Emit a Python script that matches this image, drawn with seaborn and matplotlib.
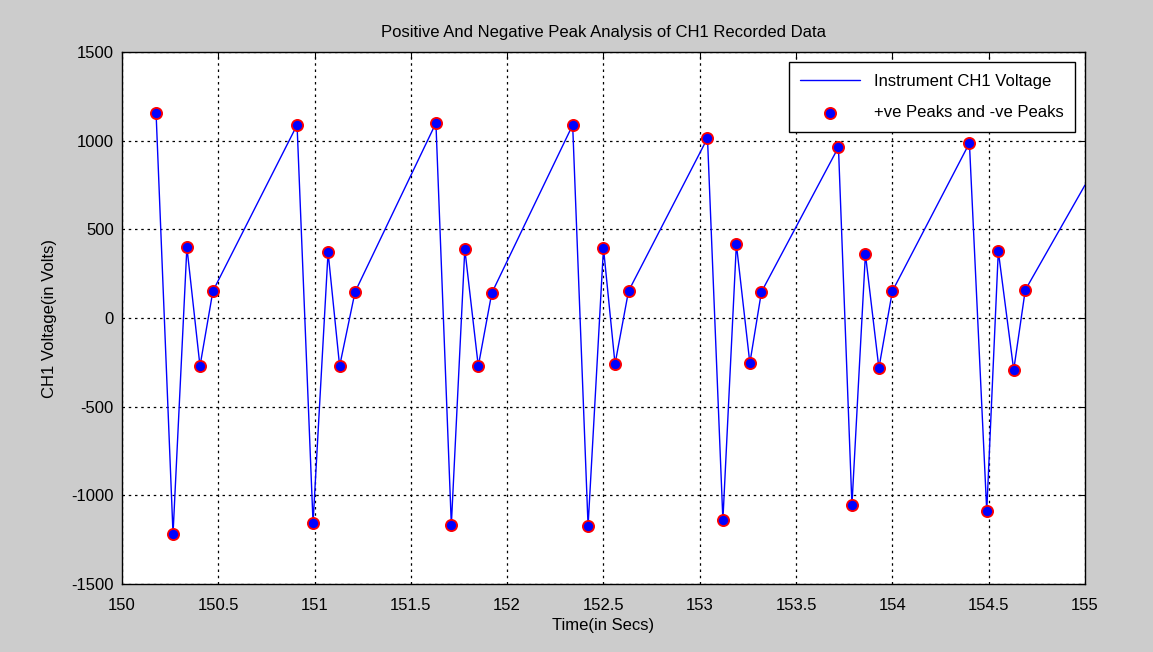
import numpy as np
import pandas as pd
import seaborn as sns
import matplotlib.pyplot as plt

# peak times (s) and voltages (V)
peak_time = [150.177, 150.265, 150.337, 150.405, 150.472,
             150.909, 150.992, 151.070, 151.130, 151.210,
             151.630, 151.710, 151.780, 151.850, 151.920,
             152.340, 152.420, 152.500, 152.560, 152.630,
             153.040, 153.120, 153.190, 153.260, 153.320,
             153.720, 153.790, 153.860, 153.930, 154.000,
             154.400, 154.490, 154.550, 154.630, 154.690]
peak_volt = [1156, -1218, 400, -271, 152,
             1089, -1156, 372, -271, 147,
             1100, -1167, 389, -271, 141,
             1089, -1173, 395, -259, 152,
             1015, -1139, 417, -254, 147,
             964, -1055, 361, -282, 152,
             987, -1089, 378, -293, 158]

# the trace keeps rising past the last peak up to the right edge
end_time = [155.0]
end_volt = [750]

x_ticks = [150, 150.5, 151, 151.5, 152, 152.5, 153, 153.5, 154, 154.5, 155]
x_labels = ["150", "150.5", "151", "151.5", "152", "152.5", "153", "153.5", "154", "154.5", "155"]
y_ticks = [-1500, -1000, -500, 0, 500, 1000, 1500]

trace = pd.DataFrame({"t": peak_time + end_time, "v": peak_volt + end_volt})
peaks = pd.DataFrame({"t": peak_time, "v": peak_volt})

sns.set_style("white")
plt.rcParams["font.family"] = ["Liberation Sans", "DejaVu Sans"]
plt.rcParams["axes.unicode_minus"] = False
plt.rcParams["text.color"] = "black"
plt.rcParams["axes.labelcolor"] = "black"

fig = plt.figure(figsize=(11.53, 6.52), dpi=100, facecolor="#cccccc")
ax = fig.add_axes([0.1058, 0.1043, 0.8352, 0.8157])
ax.set_facecolor("white")

sns.lineplot(data=trace, x="t", y="v", ax=ax, color="#0000ff", linewidth=1.0,
             label="Instrument CH1 Voltage", sort=False, estimator=None)
sns.scatterplot(data=peaks, x="t", y="v", ax=ax, color="#0000ff", edgecolor="#ff0000",
                linewidth=1.3, s=65, zorder=3, label="+ve Peaks and -ve Peaks")

ax.set_xlim(150, 155)
ax.set_ylim(-1500, 1500)
ax.set_xticks(x_ticks)
ax.set_xticklabels(x_labels)
ax.set_yticks(y_ticks)
ax.grid(True, color="black", linestyle=(0, (2, 3)), linewidth=0.9)
ax.tick_params(direction="in", length=5, top=True, right=True, labelsize=12, colors="black")
ax.tick_params(axis="x", pad=10)
ax.tick_params(axis="y", pad=6)
for sp in ax.spines.values():
    sp.set_color("black")
    sp.set_linewidth(1.0)

ax.set_title("Positive And Negative Peak Analysis of CH1 Recorded Data", fontsize=12, pad=11)
ax.set_xlabel("Time(in Secs)", fontsize=12, labelpad=4)
ax.set_ylabel("CH1 Voltage(in Volts)", fontsize=12, labelpad=10)

leg = ax.legend(loc="upper right", fontsize=12, frameon=True, fancybox=False,
                edgecolor="black", framealpha=1, borderaxespad=0.6, handlelength=3.6,
                labelspacing=1.0, borderpad=0.7)
leg.get_frame().set_linewidth(1.0)

fig.savefig("out.png", dpi=100, facecolor=fig.get_facecolor())
